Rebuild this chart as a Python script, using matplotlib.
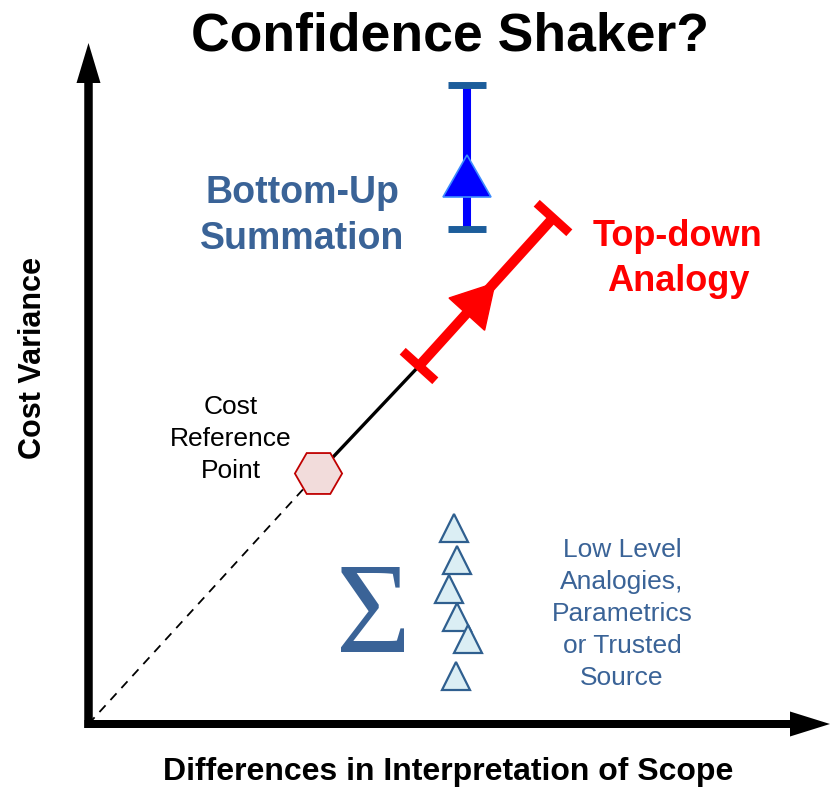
import numpy as np
import matplotlib.pyplot as plt
from matplotlib.patches import FancyArrow, Polygon

plt.rcParams['font.family'] = ['Liberation Sans', 'DejaVu Sans']

# Diagram layout in pixel units (origin top-left, y down)
origin = (88.5, 724)
x_axis_tip = 830
y_axis_tip = 43

ref_point = (318, 473)
red_span = [(419, 366), (553, 218)]
red_head_tip = (495, 283)

blue_x = 467
blue_span = [85, 229]
blue_head = [155, 197]  # tip, base

tri_x = [454, 457, 449, 457, 468, 456]
tri_y = [528, 560, 589, 617, 639, 676]

sigma_pos = (374, 652)

title = 'Confidence Shaker?'
x_label = 'Differences in Interpretation of Scope'
y_label = 'Cost Variance'
bottom_up_lines = ['Bottom-Up', 'Summation']
top_down_lines = ['Top-down', 'Analogy']
ref_lines = ['Cost', 'Reference', 'Point']
low_level_lines = ['Low Level', 'Analogies,', 'Parametrics', 'or Trusted', 'Source']

text_blue = '#3a6397'
tri_face = '#dbeef4'
tri_edge = '#2f5f8f'

fig = plt.figure(figsize=(8.37, 7.89), dpi=100)
ax = fig.add_axes([0, 0, 1, 1])
ax.set_xlim(0, 837)
ax.set_ylim(789, 0)
ax.axis('off')


def head(tip, base_mid, half_w):
    tip = np.array(tip, float)
    base_mid = np.array(base_mid, float)
    d = tip - base_mid
    n = np.array([-d[1], d[0]]) / np.hypot(*d)
    return np.array([tip, base_mid + n * half_w, base_mid - n * half_w])


# axes arrows
ax.add_patch(FancyArrow(origin[0], origin[1] + 4, 0, y_axis_tip - origin[1] - 4, width=8.5,
                        head_width=24, head_length=40, length_includes_head=True,
                        color='black', lw=0, zorder=3))
ax.add_patch(FancyArrow(origin[0] - 4, origin[1], x_axis_tip - origin[0] + 4, 0, width=8,
                        head_width=25, head_length=40, length_includes_head=True,
                        color='black', lw=0, zorder=3))

# dashed and solid guide line
ax.plot([origin[0], ref_point[0]], [origin[1], ref_point[1]], color='black',
        lw=1.3, dashes=(5, 4), zorder=2)
ax.plot([ref_point[0], red_span[0][0]], [ref_point[1], red_span[0][1]],
        color='black', lw=2.4, zorder=2)

# red top-down arrow with caps
(x0, y0), (x1, y1) = red_span
ax.plot([x0, x1], [y0, y1], color='red', lw=7.2, solid_capstyle='butt', zorder=4)
d = np.array([x1 - x0, y1 - y0], float)
d /= np.hypot(*d)
perp = np.array([-d[1], d[0]])
for cx, cy in red_span:
    ax.plot([cx - perp[0] * 22, cx + perp[0] * 22], [cy - perp[1] * 22, cy + perp[1] * 22],
            color='red', lw=6.5, solid_capstyle='butt', zorder=4)
tip = np.array(red_head_tip, float)
ax.add_patch(Polygon(head(tip, tip - d * 42, 24), closed=True, color='red', zorder=5))

# blue bottom-up bar
ax.plot([blue_x, blue_x], blue_span, color='#0000ff', lw=5.8, solid_capstyle='butt', zorder=4)
for cy in blue_span:
    ax.plot([blue_x - 19, blue_x + 19], [cy, cy], color='#1c5d9b', lw=5, solid_capstyle='butt', zorder=4)
ax.add_patch(Polygon(head((blue_x, blue_head[0]), (blue_x, blue_head[1]), 24), closed=True,
                     facecolor='#0000ff', edgecolor='#3d8cff', lw=1.2, zorder=5))

# cost reference point
ax.plot(*ref_point, marker='H', markersize=34, markerfacecolor='#f2dcdb',
        markeredgecolor='#c00000', markeredgewidth=1.3, zorder=6)

# low-level triangles
ax.plot(tri_x, tri_y, linestyle='none', marker='^', markersize=20,
        markerfacecolor=tri_face, markeredgecolor=tri_edge, markeredgewidth=1.6, zorder=4)

ax.text(*sigma_pos, '\u03a3', fontsize=93, family='Liberation Serif', color=text_blue,
        ha='center', va='baseline')

# texts
ax.text(450, 50, title, fontsize=38.5, fontweight='bold', ha='center', va='baseline')
ax.text(448, 780, x_label, fontsize=23, fontweight='bold', ha='center', va='baseline')
ax.text(33, 358, y_label, fontsize=22, fontweight='bold', rotation=90, ha='center', va='center')

for i, s in enumerate(bottom_up_lines):
    ax.text(302, 203 + i * 46, s, fontsize=27, fontweight='bold', color=text_blue,
            ha='center', va='baseline')
for i, s in enumerate(top_down_lines):
    ax.text(678, 246 + i * 45, s, fontsize=26, fontweight='bold', color='red',
            ha='center', va='baseline')
for i, s in enumerate(ref_lines):
    ax.text(231, 414 + i * 32, s, fontsize=19, ha='center', va='baseline')
for i, s in enumerate(low_level_lines):
    ax.text(622, 557 + i * 32, s, fontsize=19, color=text_blue, ha='center', va='baseline')

fig.savefig('out.png', dpi=100)
